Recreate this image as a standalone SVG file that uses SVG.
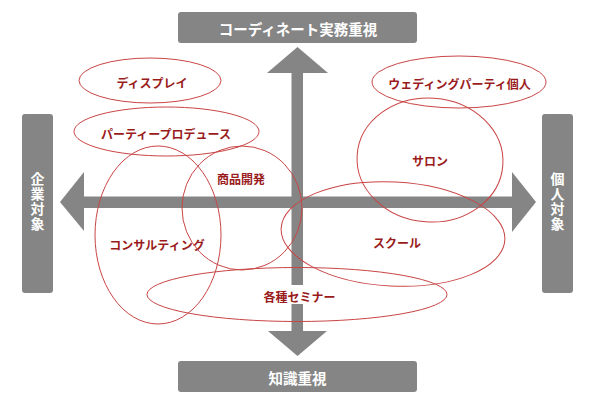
<svg xmlns="http://www.w3.org/2000/svg" width="599" height="405" viewBox="0 0 599 405">
<style>
.box{fill:#858585;}
.arr{fill:#858585;}
.bl{font-family:"Noto Sans CJK JP","Noto Sans",sans-serif;font-size:14.5px;font-weight:bold;fill:#ffffff;text-anchor:middle;dominant-baseline:central;}
.vl{font-family:"Noto Sans CJK JP","Noto Sans",sans-serif;font-size:14px;font-weight:bold;fill:#ffffff;text-anchor:middle;writing-mode:vertical-rl;text-orientation:upright;letter-spacing:1px;}
.el{fill:none;stroke:#c94545;stroke-width:1;}
.rl{font-family:"Noto Sans CJK JP","Noto Sans",sans-serif;font-size:12px;font-weight:bold;fill:#9a1b1b;text-anchor:middle;dominant-baseline:central;}
</style>
<rect width="599" height="405" fill="#ffffff"/>
<g id="connectors">
<rect class="arr" x="84" y="196.5" width="428" height="11.5"/>
<polygon class="arr" points="60,202 84,172 84,231"/>
<polygon class="arr" points="536,202 512,172 512,232"/>
<rect class="arr" x="291.5" y="73" width="11.5" height="258"/>
<polygon class="arr" points="297.5,47 267,73 328,73"/>
<polygon class="arr" points="297.5,356 268,331 327,331"/>
</g>
<g id="axis-top"><rect class="box" x="178" y="12" width="239" height="31" rx="3"/><text class="bl" x="298" y="28">コーディネート実務重視</text></g>
<g id="axis-bottom"><rect class="box" x="178" y="361" width="239" height="31" rx="3"/><text class="bl" x="297.5" y="377">知識重視</text></g>
<g id="axis-left"><rect class="box" x="22" y="114" width="31" height="179" rx="3"/><text class="vl" x="37.5" y="202">企業対象</text></g>
<g id="axis-right"><rect class="box" x="542" y="114" width="31" height="179" rx="3"/><text class="vl" x="557.5" y="202">個人対象</text></g>
<g id="display"><ellipse class="el" cx="150" cy="80.5" rx="71" ry="22.5"/><text class="rl" x="152" y="82">ディスプレイ</text></g>
<g id="party-produce"><ellipse class="el" cx="166.5" cy="131.5" rx="92.5" ry="24.5"/><text class="rl" x="166" y="133">パーティープロデュース</text></g>
<g id="wedding"><ellipse class="el" cx="459" cy="82" rx="87" ry="26"/><text class="rl" x="459.5" y="83">ウェディングパーティ個人</text></g>
<g id="salon"><ellipse class="el" cx="430" cy="160" rx="73" ry="62" transform="rotate(4 430 160)"/><text class="rl" x="430" y="160">サロン</text></g>
<g id="school"><ellipse class="el" cx="393" cy="234" rx="112" ry="52" transform="rotate(3 393 234)"/><text class="rl" x="397" y="242">スクール</text></g>
<g id="consulting"><ellipse class="el" cx="158" cy="235" rx="63" ry="89"/><text class="rl" x="157" y="244">コンサルティング</text></g>
<g id="product-dev"><ellipse class="el" cx="242" cy="208" rx="60" ry="62"/><text class="rl" x="241" y="178">商品開発</text></g>
<g id="seminar"><ellipse class="el" cx="297" cy="294.5" rx="150" ry="27"/><rect x="289" y="285" width="17" height="19" fill="#ffffff"/><text class="rl" x="299.5" y="296">各種セミナー</text></g>
</svg>
